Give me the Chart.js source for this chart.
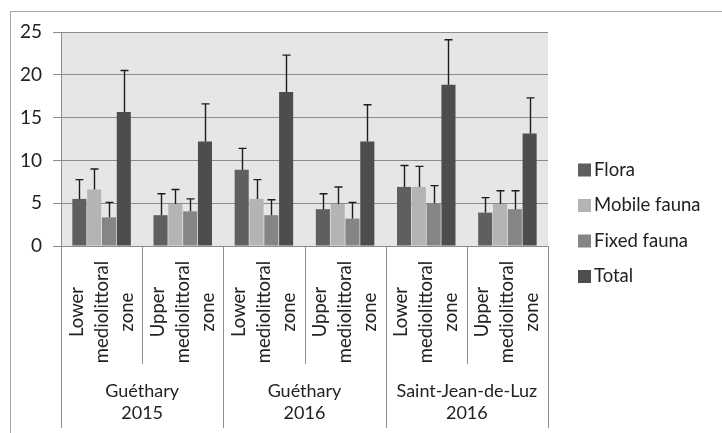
<!DOCTYPE html>
<html>
<head>
<meta charset="utf-8">
<script src="https://cdn.jsdelivr.net/npm/chart.js@4/dist/chart.umd.min.js"></script>
<style>
  html, body { margin: 0; padding: 0; background: #fff; }
  #wrap { width: 722px; height: 433px; }
</style>
</head>
<body>
<div id="wrap"><canvas id="chart" width="722" height="433"></canvas></div>
<script>
// categories and groups
const zoneLabels = [
  ["Lower", "mediolittoral", "zone"],
  ["Upper", "mediolittoral", "zone"],
  ["Lower", "mediolittoral", "zone"],
  ["Upper", "mediolittoral", "zone"],
  ["Lower", "mediolittoral", "zone"],
  ["Upper", "mediolittoral", "zone"]
];
const siteLabels = [["Guéthary", "2015"], ["Guéthary", "2016"], ["Saint-Jean-de-Luz", "2016"]];

// series values (mean) and upper error size
const flora = [5.5, 3.6, 8.9, 4.3, 6.9, 3.9];
const floraErr = [2.25, 2.5, 2.5, 1.8, 2.5, 1.75];
const mobileFauna = [6.6, 4.9, 5.5, 4.9, 6.9, 4.9];
const mobileFaunaErr = [2.4, 1.7, 2.25, 2.0, 2.4, 1.55];
const fixedFauna = [3.35, 4.05, 3.6, 3.2, 5.0, 4.3];
const fixedFaunaErr = [1.75, 1.45, 1.8, 1.9, 2.05, 2.15];
const total = [15.65, 12.2, 18.0, 12.2, 18.85, 13.15];
const totalErr = [4.85, 4.4, 4.3, 4.3, 5.25, 4.15];

const yTicks = [0, 5, 10, 15, 20, 25];

const FONT = "Lato, 'Noto Sans', sans-serif";
const TEXT = "#222";
const LINE = "#8c8c8c";

document.addEventListener("DOMContentLoaded", () => {
  const ctx = document.getElementById("chart");

  // background, outer frame, plot area fill
  const backdrop = {
    id: "backdrop",
    beforeDraw(chart) {
      const c = chart.ctx;
      const a = chart.chartArea;
      c.save();
      c.fillStyle = "#fff";
      c.fillRect(0, 0, chart.width, chart.height);
      c.strokeStyle = "#a6a6a6";
      c.lineWidth = 1;
      c.strokeRect(10.5, 11.5, 900, 600);
      c.fillStyle = "#e6e6e6";
      c.fillRect(a.left, a.top, a.right - a.left, a.bottom - a.top);
      c.restore();
    }
  };

  // upward error bars with caps
  const errorBars = {
    id: "errorBars",
    afterDatasetsDraw(chart) {
      const c = chart.ctx;
      const y = chart.scales.y;
      c.save();
      c.strokeStyle = "#1c1c1c";
      c.lineWidth = 1.4;
      chart.data.datasets.forEach((ds, di) => {
        const meta = chart.getDatasetMeta(di);
        meta.data.forEach((bar, i) => {
          const top = y.getPixelForValue(ds.data[i] + ds.err[i]);
          const x = Math.round(bar.x) + 0.5;
          c.beginPath();
          c.moveTo(x, bar.y);
          c.lineTo(x, top);
          c.moveTo(x - 4, top);
          c.lineTo(x + 4, top);
          c.stroke();
        });
      });
      c.restore();
    }
  };

  // two level category axis and legend
  const axisAndLegend = {
    id: "axisAndLegend",
    afterDraw(chart) {
      const c = chart.ctx;
      const x = chart.scales.x;
      const a = chart.chartArea;
      const n = chart.data.labels.length;
      const w = (a.right - a.left) / n;
      c.save();
      c.strokeStyle = LINE;
      c.lineWidth = 1;
      c.beginPath();
      c.moveTo(a.left, a.bottom + 0.5);
      c.lineTo(a.right, a.bottom + 0.5);
      for (let i = 0; i <= n; i++) {
        const px = Math.round(a.left + i * w) + 0.5;
        c.moveTo(px, a.bottom);
        c.lineTo(px, i % 2 === 0 ? 428 : 364);
      }
      c.stroke();

      c.fillStyle = TEXT;
      c.font = "18.5px " + FONT;
      c.textAlign = "center";
      c.textBaseline = "alphabetic";
      zoneLabels.forEach((lines, i) => {
        const cx = x.getPixelForValue(i);
        lines.forEach((t, k) => {
          c.save();
          c.translate(cx + 6 + (k - 1) * 25, 312);
          c.rotate(-Math.PI / 2);
          c.fillText(t, 0, 0);
          c.restore();
        });
      });

      c.font = "18px " + FONT;
      c.textBaseline = "middle";
      siteLabels.forEach((lines, g) => {
        const cx = a.left + (g * 2 + 1) * w;
        lines.forEach((t, k) => c.fillText(t, cx, 391 + k * 22));
      });

      // legend
      c.font = "18.5px " + FONT;
      c.textAlign = "left";
      chart.data.datasets.forEach((ds, di) => {
        const ly = 170 + di * 35.5;
        c.fillStyle = ds.backgroundColor;
        c.fillRect(578, ly - 6.5, 13, 13);
        c.fillStyle = TEXT;
        c.fillText(ds.label, 594, ly);
      });
      c.restore();
    }
  };

  new Chart(ctx, {
    type: "bar",
    data: {
      labels: zoneLabels.map((l) => l.join(" ")),
      datasets: [
        { label: "Flora", data: flora, err: floraErr, backgroundColor: "#5f5f5f" },
        { label: "Mobile fauna", data: mobileFauna, err: mobileFaunaErr, backgroundColor: "#b4b4b4" },
        { label: "Fixed fauna", data: fixedFauna, err: fixedFaunaErr, backgroundColor: "#858585" },
        { label: "Total", data: total, err: totalErr, backgroundColor: "#4d4d4d" }
      ]
    },
    options: {
      responsive: false,
      animation: false,
      devicePixelRatio: 1,
      categoryPercentage: 0.73,
      barPercentage: 0.95,
      layout: { padding: { top: 32, right: 174, bottom: 0, left: 0 } },
      plugins: {
        legend: { display: false },
        tooltip: { enabled: false }
      },
      scales: {
        x: {
          ticks: { display: false },
          grid: { display: false },
          border: { display: false },
          afterFit(scale) { scale.height = 187; }
        },
        y: {
          min: 0,
          max: 25,
          afterBuildTicks(scale) { scale.ticks = yTicks.map((v) => ({ value: v })); },
          ticks: { color: TEXT, font: { family: FONT, size: 19 }, padding: 11 },
          grid: { color: LINE, tickLength: 8 },
          border: { color: LINE },
          afterFit(scale) { scale.width = 61; }
        }
      }
    },
    plugins: [backdrop, errorBars, axisAndLegend]
  });
});
</script>
</body>
</html>
